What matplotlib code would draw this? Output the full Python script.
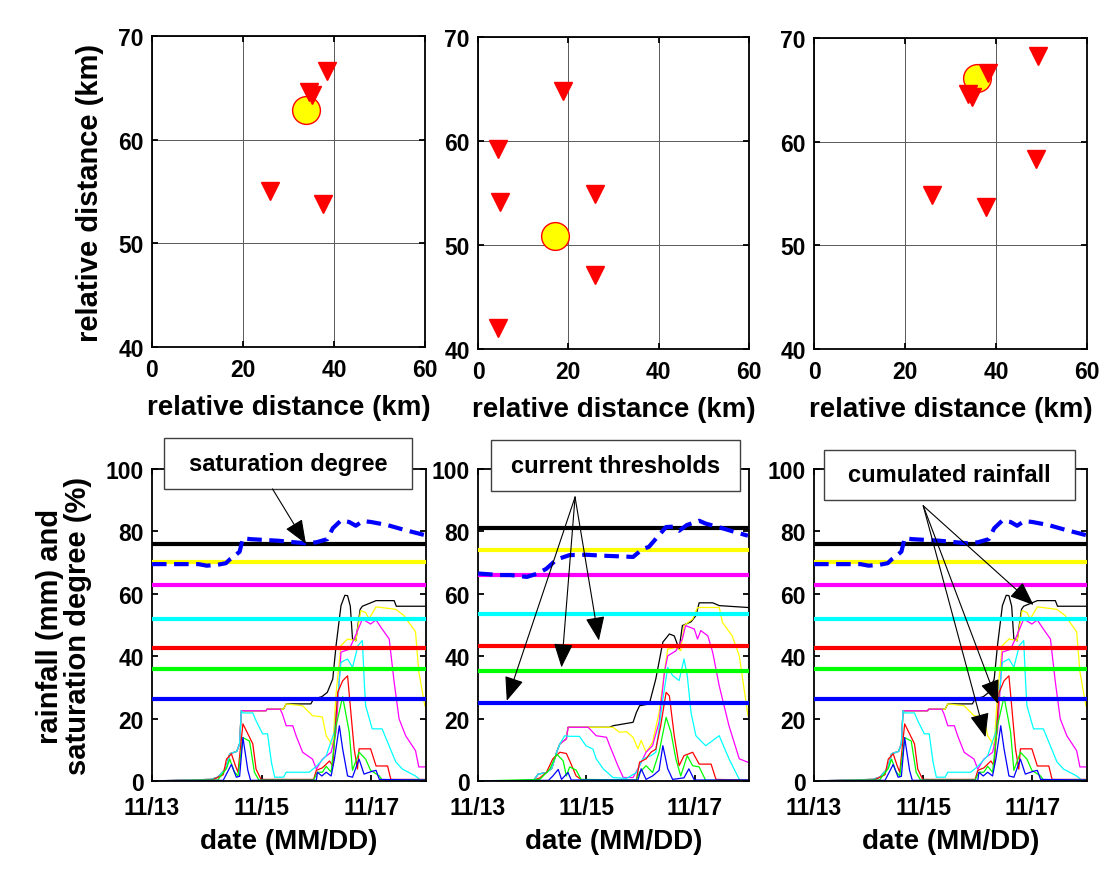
"""Station maps and rainfall / saturation-degree time series (three events)."""

import matplotlib
matplotlib.use("Agg")
import matplotlib.pyplot as plt
from matplotlib.patches import Rectangle

plt.rcParams["font.family"] = ["Liberation Sans", "DejaVu Sans"]
plt.rcParams["font.weight"] = "bold"
plt.rcParams["axes.labelweight"] = "bold"

# ---------------- top row: rain gauges (triangles) and landslide site (circle)
map1_gauge_x = [34.5, 35.2, 38.5, 25.9, 37.6]
map1_gauge_y = [64.6, 64.3, 66.6, 55.0, 53.8]
map1_site = (33.8, 62.9)

map2_gauge_x = [18.8, 4.5, 4.9, 25.9, 25.9, 4.5]
map2_gauge_y = [64.8, 59.2, 54.1, 54.9, 47.1, 42.0]
map2_site = (17.0, 50.9)

map3_gauge_x = [49.3, 38.3, 33.9, 34.7, 48.7, 26.0, 37.7]
map3_gauge_y = [68.3, 66.6, 64.6, 64.3, 58.3, 54.9, 53.7]
map3_site = (35.8, 66.1)

# ---------------- bottom row: time in days of November
date_ticks = [13, 15, 17]
date_labels = ["11/13", "11/15", "11/17"]

# thresholds (mm), order: black, yellow, magenta, cyan, red, green, blue
curve_colors = ["k", "#FFFF00", "#FF00FF", "#00FFFF", "#FF0000", "#00FF00", "#0000FF"]
thr_a = [76.0, 70.3, 62.8, 52.0, 42.6, 35.8, 26.4]
thr_b = [81.1, 74.1, 66.0, 53.4, 43.4, 35.3, 25.1]

# saturation degree (%)
sat_a_t = [13.0, 13.5, 13.85, 14.0, 14.2, 14.35, 14.42, 14.5, 14.6, 14.66, 14.8, 15.0,
           15.3, 15.6, 15.8, 16.0, 16.2, 16.3, 16.45, 16.6, 16.72, 16.85, 17.0, 17.3,
           17.6, 17.98]
sat_a_v = [69.5, 69.5, 69.5, 69.0, 69.3, 69.8, 71.0, 72.0, 73.5, 77.8, 77.5, 77.3,
           77.0, 76.5, 76.2, 76.5, 77.5, 81.0, 83.5, 83.0, 81.8, 83.3, 83.0, 82.0,
           80.5, 78.8]
sat_b_t = [13.0, 13.4, 13.6, 13.9, 14.1, 14.26, 14.45, 14.69, 15.0, 15.3, 15.6, 15.86,
           16.04, 16.15, 16.28, 16.47, 16.6, 16.71, 16.85, 17.08, 17.2, 17.45, 17.7, 17.98]
sat_b_v = [66.5, 66.0, 66.0, 65.4, 66.5, 68.0, 71.0, 72.4, 72.5, 72.2, 72.0, 71.8,
           74.4, 75.0, 77.6, 81.4, 81.5, 80.2, 82.0, 83.4, 82.5, 81.3, 80.0, 78.6]

# cumulated rainfall (mm), event A (panels 1 and 3)
a_black_t = [13.0, 14.08, 14.2, 14.35, 14.42, 14.55, 14.6, 14.63, 15.08, 15.1, 15.4, 15.45,
             15.9, 15.95, 16.1, 16.2, 16.3, 16.36, 16.45, 16.52, 16.57, 16.62, 16.66, 16.72,
             16.76, 16.8, 16.84, 17.09, 17.42, 17.46, 17.98]
a_black_v = [0, 0.5, 1.2, 4.0, 8.7, 9.5, 12.0, 22.5, 22.5, 23.0, 23.0, 24.7,
             24.7, 26.3, 27.0, 28.4, 32.7, 43.4, 56.2, 59.5, 59.4, 56.0, 45.5, 44.9,
             50.0, 55.0, 56.0, 57.8, 57.8, 56.0, 56.0]
a_yellow_t = [13.0, 14.08, 14.2, 14.35, 14.42, 14.55, 14.6, 14.63, 15.08, 15.1, 15.4, 15.45,
              15.55, 15.75, 15.93, 16.11, 16.18, 16.3, 16.36, 16.45, 16.57, 16.72, 16.81,
              16.9, 16.96, 17.09, 17.45, 17.6, 17.81, 17.87, 17.98]
a_yellow_v = [0, 0.5, 1.2, 4.0, 8.7, 9.5, 12.0, 22.5, 22.5, 23.0, 23.0, 24.7,
              24.5, 24.1, 20.9, 20.5, 14.5, 11.3, 28.0, 43.4, 45.5, 45.0, 54.6,
              54.0, 51.9, 55.8, 55.0, 53.0, 47.8, 35.0, 24.1]
a_magenta_t = [13.0, 14.08, 14.2, 14.35, 14.42, 14.55, 14.6, 14.63, 15.08, 15.1, 15.34,
               15.38, 15.45, 15.57, 15.63, 15.75, 15.93, 16.0, 16.11, 16.27, 16.36, 16.45,
               16.6, 16.72, 16.84, 16.99, 17.09, 17.2, 17.33, 17.42, 17.51, 17.63, 17.81,
               17.87, 17.98]
a_magenta_v = [0, 0.5, 1.2, 4.0, 8.7, 9.5, 12.0, 22.5, 22.5, 23.0, 23.0,
               21.5, 17.7, 17.7, 14.5, 9.2, 7.0, 3.8, 7.0, 9.2, 15.7, 41.3,
               42.2, 46.8, 51.9, 50.3, 51.6, 48.7, 45.5, 31.7, 19.9, 14.5, 9.7,
               4.5, 4.5]
a_cyan_t = [13.0, 14.08, 14.2, 14.35, 14.42, 14.55, 14.6, 14.63, 14.66, 14.84, 14.9, 15.02,
            15.11, 15.18, 15.24, 15.4, 15.45, 15.87, 16.0, 16.18, 16.33, 16.45, 16.57,
            16.66, 16.76, 16.84, 16.88, 16.9, 17.02, 17.2, 17.45, 17.57, 17.81, 17.9, 17.98]
a_cyan_v = [0, 0.5, 1.2, 4.0, 8.7, 9.5, 12.0, 22.5, 21.8, 21.8, 19.3, 15.1,
            15.1, 6.0, 1.2, 1.2, 2.8, 2.8, 4.7, 8.1, 15.7, 38.0, 39.1,
            36.4, 43.4, 45.0, 30.0, 24.1, 16.7, 16.7, 6.1, 3.8, 1.6, 0.3, 0]
a_red_t = [13.0, 14.1, 14.3, 14.36, 14.45, 14.52, 14.57, 14.6, 14.66, 14.75, 14.84, 14.9,
           14.99, 15.95, 16.0, 16.11, 16.24, 16.3, 16.39, 16.48, 16.57, 16.63, 16.69,
           16.75, 16.78, 16.99, 17.09, 17.3, 17.36, 17.98]
a_red_v = [0, 0.3, 2.0, 7.0, 8.7, 5.0, 2.8, 8.0, 18.3, 15.1, 11.9, 3.8,
           0.5, 0.5, 3.4, 4.2, 6.4, 4.8, 28.4, 32.1, 33.7, 22.0, 10.3,
           3.8, 10.3, 10.3, 4.8, 4.8, 0.5, 0.5]
a_green_t = [13.0, 14.2, 14.36, 14.42, 14.5, 14.57, 14.66, 14.78, 14.87, 14.95, 15.95,
             16.02, 16.11, 16.18, 16.27, 16.36, 16.48, 16.6, 16.66, 16.78, 16.9, 16.99,
             17.15, 17.2, 17.98]
a_green_v = [0, 0.3, 4.0, 7.0, 3.0, 1.6, 13.9, 12.8, 2.8, 0.3, 0.3,
             2.8, 2.8, 4.7, 2.8, 17.7, 27.0, 15.7, 3.4, 9.2, 7.0, 3.4,
             1.6, 0.3, 0.3]
a_blue_t = [13.0, 14.3, 14.45, 14.54, 14.6, 14.66, 14.75, 14.8, 16.0, 16.02, 16.1, 16.18,
            16.27, 16.33, 16.42, 16.48, 16.57, 16.66, 16.78, 16.87, 17.0, 17.09, 17.15, 17.98]
a_blue_v = [0, 0.2, 5.3, 1.2, 1.5, 13.9, 3.4, 0.2, 0.2, 2.8, 1.6, 2.8,
            1.6, 7.0, 17.7, 10.3, 1.6, 1.2, 7.0, 2.2, 3.0, 3.4, 0.5, 0.3]

# cumulated rainfall (mm), event B (panel 2)
b_black_t = [13.0, 14.02, 14.11, 14.26, 14.36, 14.45, 14.51, 14.63, 14.66, 15.43, 15.49,
             15.86, 15.92, 15.98, 16.16, 16.28, 16.41, 16.53, 16.62, 16.71, 16.77, 16.93,
             17.02, 17.08, 17.33, 17.45, 17.98]
b_black_v = [0, 0, 2.2, 2.7, 4.0, 9.2, 11.9, 13.5, 17.2, 17.2, 17.7,
             18.8, 21.9, 24.1, 24.7, 32.7, 44.5, 47.1, 46.5, 42.3, 49.8, 51.0,
             53.0, 57.1, 57.1, 56.2, 55.6]
b_yellow_t = [13.0, 14.02, 14.11, 14.26, 14.36, 14.45, 14.51, 14.63, 14.66, 15.43, 15.49,
              15.61, 15.74, 15.86, 15.95, 16.01, 16.10, 16.22, 16.34, 16.44, 16.50, 16.65,
              16.74, 16.80, 16.96, 17.05, 17.45, 17.51, 17.69, 17.82, 17.98]
b_yellow_v = [0, 0, 2.2, 2.7, 4.0, 9.2, 11.9, 13.5, 17.2, 17.2, 17.2,
              15.6, 15.8, 14.0, 10.3, 13.0, 9.2, 12.4, 21.9, 35.0, 42.3, 42.8,
              41.8, 49.8, 51.9, 55.6, 55.6, 50.8, 46.5, 40.1, 21.0]
b_magenta_t = [13.0, 14.02, 14.11, 14.26, 14.36, 14.45, 14.51, 14.63, 14.66, 15.03, 15.06,
               15.18, 15.37, 15.43, 15.58, 15.68, 15.86, 15.98, 16.10, 16.22, 16.34, 16.44,
               16.50, 16.65, 16.77, 16.83, 16.99, 17.05, 17.11, 17.24, 17.33, 17.45, 17.63,
               17.82, 17.98]
b_magenta_v = [0, 0, 2.2, 2.7, 4.0, 9.2, 11.9, 13.5, 17.2, 17.2, 16.7,
               14.5, 14.0, 11.3, 4.9, 1.1, 1.1, 4.9, 9.2, 11.3, 18.8, 35.0,
               40.1, 41.7, 45.5, 49.8, 48.7, 45.5, 48.2, 46.5, 41.2, 30.5, 17.7,
               7.1, 6.0]
b_cyan_t = [13.0, 14.02, 14.11, 14.26, 14.36, 14.45, 14.51, 14.6, 14.69, 14.87, 14.99,
            15.12, 15.18, 15.31, 15.49, 15.74, 15.92, 16.04, 16.19, 16.28, 16.41, 16.50,
            16.59, 16.71, 16.80, 16.86, 16.93, 17.02, 17.20, 17.45, 17.63, 17.82, 17.98]
b_cyan_v = [0, 0, 2.2, 2.7, 4.0, 9.2, 11.9, 14.5, 14.3, 14.3, 11.3,
            10.2, 7.1, 3.9, 1.1, 0.8, 2.7, 7.1, 8.1, 9.2, 26.2, 36.4,
            33.8, 32.2, 39.1, 33.8, 21.9, 14.5, 11.3, 14.5, 7.1, 0.5, 0.3]
b_red_t = [13.0, 14.02, 14.14, 14.26, 14.38, 14.51, 14.63, 14.69, 14.81, 14.93, 15.92,
           15.98, 16.10, 16.19, 16.28, 16.37, 16.47, 16.53, 16.62, 16.71, 16.80, 16.96,
           17.08, 17.30, 17.39, 17.98]
b_red_v = [0, 0.2, 1.0, 2.7, 7.1, 9.2, 8.8, 6.5, 1.6, 0.2, 0.2,
           6.0, 7.1, 9.2, 10.2, 17.7, 28.4, 27.3, 14.5, 4.9, 8.1, 9.2,
           5.4, 5.4, 0.5, 0.3]
b_green_t = [13.0, 14.14, 14.32, 14.45, 14.57, 14.63, 14.69, 14.81, 14.90, 15.92, 15.98,
             16.10, 16.22, 16.34, 16.47, 16.56, 16.65, 16.74, 16.86, 16.96, 17.08, 17.20,
             17.98]
b_green_v = [0, 0.5, 3.7, 8.6, 6.5, 1.6, 4.5, 3.5, 0.5, 0.3, 2.7,
             4.9, 2.7, 9.2, 20.4, 15.6, 7.1, 1.6, 8.1, 4.9, 4.5, 0.2,
             0.2]
b_blue_t = [13.0, 14.3, 14.38, 14.48, 14.54, 14.66, 14.72, 15.95, 16.01, 16.10, 16.22,
            16.34, 16.41, 16.50, 16.59, 16.80, 16.89, 16.99, 17.98]
b_blue_v = [0, 0.2, 1.6, 3.7, 0.5, 2.7, 0.3, 0.3, 3.9, 0.5, 1.6,
            3.4, 11.3, 3.9, 0.5, 1.0, 3.9, 0.3, 0.3]

# annotation targets (date, value)
sat_arrow_tip = [(15.81, 76.0)]
thr_arrow_tips = [(13.53, 25.7), (14.54, 36.4), (15.23, 45.0)]
cum_arrow_tips = [(17.02, 56.4), (16.14, 14.0), (16.37, 24.7)]

rain_a = [(a_black_t, a_black_v), (a_yellow_t, a_yellow_v), (a_magenta_t, a_magenta_v),
          (a_cyan_t, a_cyan_v), (a_red_t, a_red_v), (a_green_t, a_green_v),
          (a_blue_t, a_blue_v)]
rain_b = [(b_black_t, b_black_v), (b_yellow_t, b_yellow_v), (b_magenta_t, b_magenta_v),
          (b_cyan_t, b_cyan_v), (b_red_t, b_red_v), (b_green_t, b_green_v),
          (b_blue_t, b_blue_v)]


def style_axes(ax, xpad=8):
    for sp in ax.spines.values():
        sp.set_linewidth(1.3)
    ax.tick_params(direction="in", top=True, right=True, length=4, width=1.3,
                   labelsize=16.5)
    ax.tick_params(axis="x", pad=xpad)
    ax.tick_params(axis="y", pad=6)


def plot_map(ax, gx, gy, site, ylabel=False):
    ax.plot(site[0], site[1], "o", ms=20, mfc="#FFFF00", mec="#FF0000", mew=1, zorder=3)
    ax.plot(gx, gy, "v", ms=13, color="#FF0000", zorder=4)
    ax.set_xlim(0, 60)
    ax.set_ylim(40, 70)
    ax.set_xticks([0, 20, 40, 60])
    ax.set_yticks([40, 50, 60, 70])
    ax.grid(True, color="0.35", lw=0.7)
    style_axes(ax)
    ax.set_xlabel("relative distance (km)", fontsize=20)
    ax.xaxis.set_label_coords(0.5, -0.15)
    if ylabel:
        ax.set_ylabel("relative distance (km)", fontsize=21)
        ax.yaxis.set_label_coords(-0.176, 0.5)


def plot_series(ax, rain, thr, sat_t, sat_v, ylabel=False):
    for (t, v), c in zip(rain, curve_colors):
        ax.plot(t, v, color=c, lw=0.9, zorder=2)
    for level, c in zip(thr, curve_colors):
        ax.axhline(level, color=c, lw=3, zorder=3)
    ax.plot(sat_t, sat_v, color="#0000FF", lw=3, ls=(0, (3.5, 1.8)), zorder=4)
    ax.set_xlim(13, 18)
    ax.set_ylim(0, 100)
    ax.set_xticks(date_ticks)
    ax.set_xticklabels(date_labels)
    ax.set_yticks([0, 20, 40, 60, 80, 100])
    style_axes(ax, xpad=10.5)
    ax.set_xlabel("date (MM/DD)", fontsize=20)
    ax.xaxis.set_label_coords(0.5, -0.15)
    if ylabel:
        ax.set_ylabel("rainfall (mm) and\nsaturation degree (%)", fontsize=21,
                      linespacing=1.0)
        ax.yaxis.set_label_coords(-0.219, 0.5)


def add_box(ax, text, x0, x1, y0, y1, start, tips):
    ax.add_patch(Rectangle((x0, y0), x1 - x0, y1 - y0, transform=ax.transAxes,
                           facecolor="white", edgecolor="0.25", lw=1.0,
                           clip_on=False, zorder=6))
    ax.text((x0 + x1) / 2, (y0 + y1) / 2, text, transform=ax.transAxes,
            ha="center", va="center", fontsize=17, zorder=7)
    for tip in tips:
        ax.annotate("", xy=tip, xycoords="data", xytext=start,
                    textcoords="axes fraction", zorder=8,
                    arrowprops=dict(arrowstyle="-|>,head_length=1.0,head_width=0.4",
                                    color="k", lw=0.8, shrinkA=0, shrinkB=0,
                                    mutation_scale=15))


fig = plt.figure(figsize=(11.02, 8.95), dpi=100)

top_pos = [[0.1379, 0.6112, 0.2477, 0.3475],
           [0.4338, 0.6089, 0.2459, 0.3486],
           [0.7387, 0.6089, 0.2477, 0.3475]]
bot_pos = [[0.1379, 0.1263, 0.2486, 0.3486],
           [0.4338, 0.1263, 0.2459, 0.3486],
           [0.7387, 0.1263, 0.2477, 0.3486]]

ax1 = fig.add_axes(top_pos[0])
ax2 = fig.add_axes(top_pos[1])
ax3 = fig.add_axes(top_pos[2])
plot_map(ax1, map1_gauge_x, map1_gauge_y, map1_site, ylabel=True)
plot_map(ax2, map2_gauge_x, map2_gauge_y, map2_site)
plot_map(ax3, map3_gauge_x, map3_gauge_y, map3_site)

bx1 = fig.add_axes(bot_pos[0])
bx2 = fig.add_axes(bot_pos[1])
bx3 = fig.add_axes(bot_pos[2])
plot_series(bx1, rain_a, thr_a, sat_a_t, sat_a_v, ylabel=True)
plot_series(bx2, rain_b, thr_b, sat_b_t, sat_b_v)
plot_series(bx3, rain_a, thr_a, sat_a_t, sat_a_v)

add_box(bx1, "saturation degree", 0.044, 0.949, 0.936, 1.099, (0.44, 0.936), sat_arrow_tip)
add_box(bx2, "current thresholds", 0.048, 0.967, 0.929, 1.093, (0.358, 0.91), thr_arrow_tips)
add_box(bx3, "cumulated rainfall", 0.037, 0.956, 0.901, 1.061, (0.40, 0.882), cum_arrow_tips)

fig.savefig("out.png", dpi=100, facecolor="white")
